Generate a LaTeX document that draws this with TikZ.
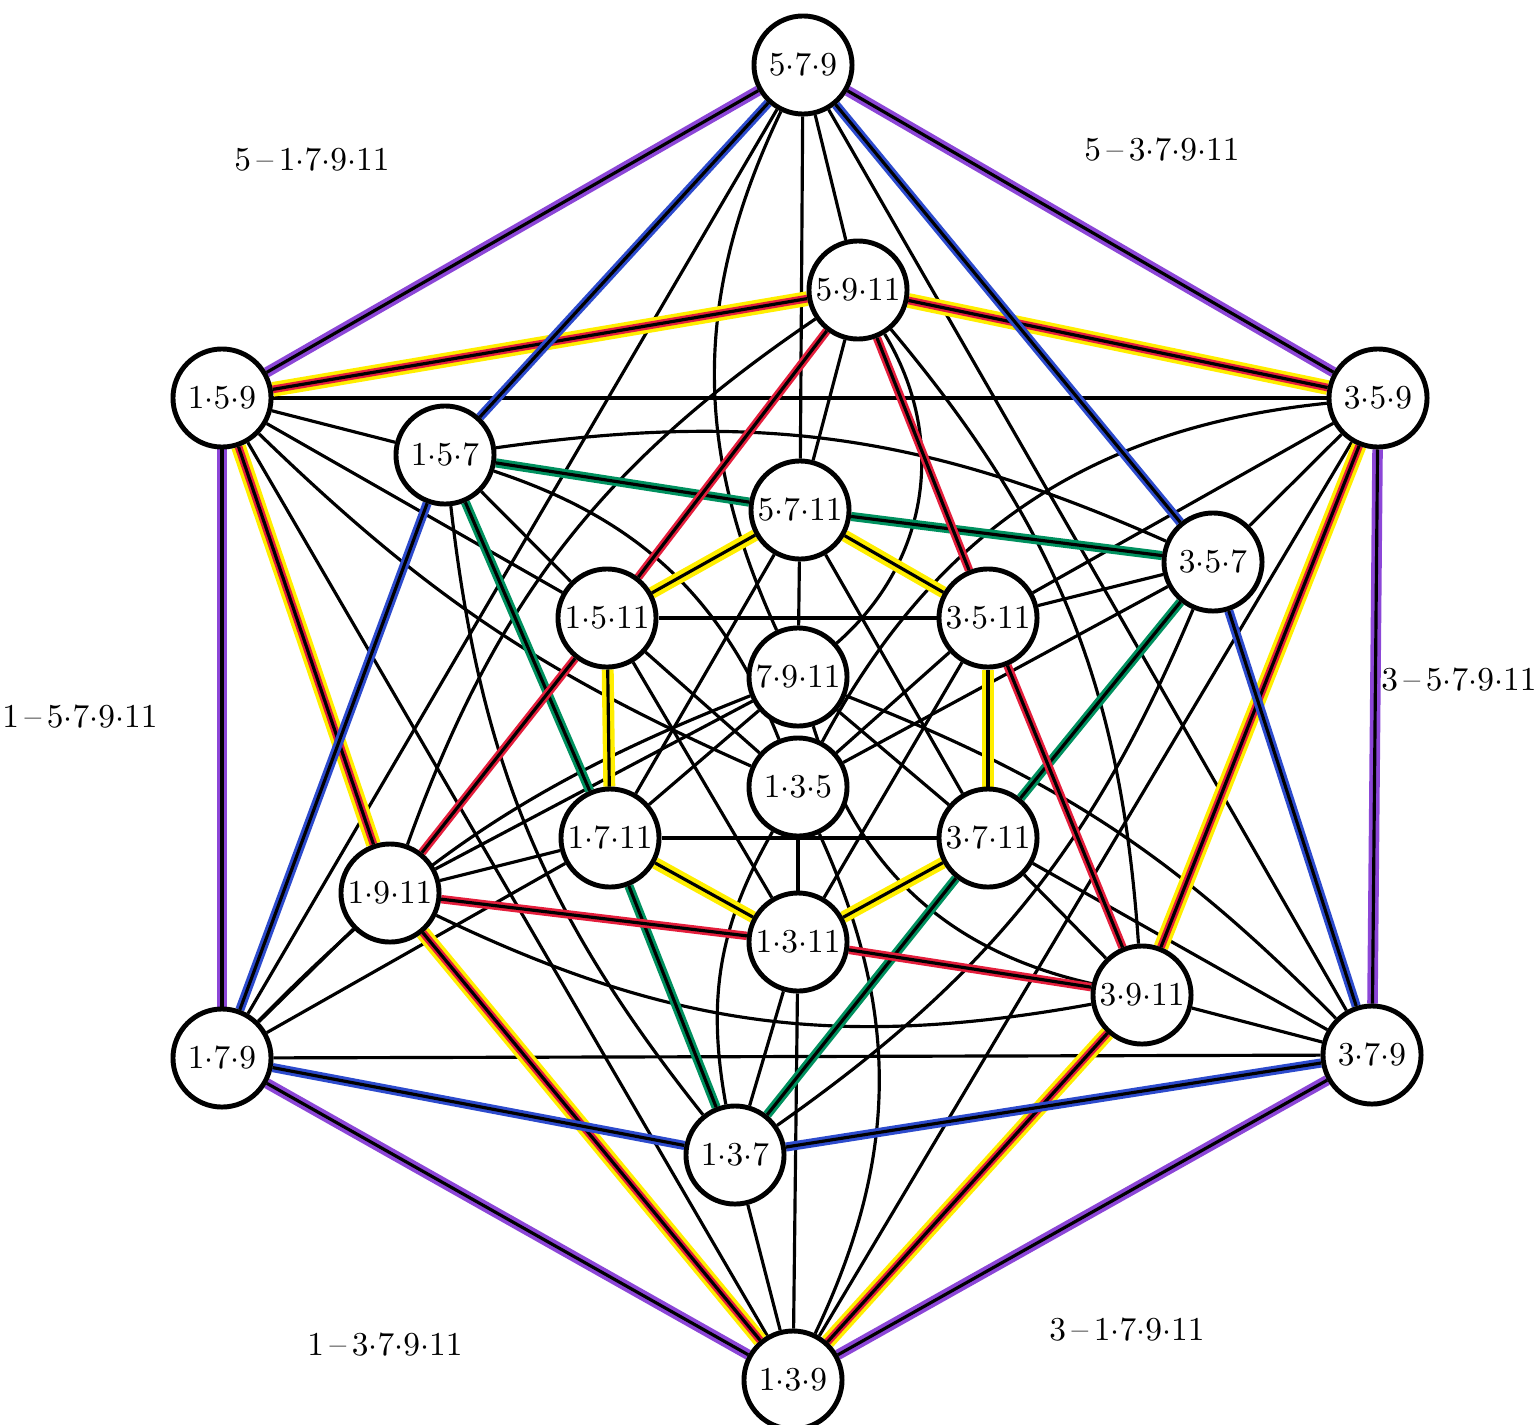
\documentclass[tikz,border=0pt]{standalone}
\usepackage{tikz}
\usetikzlibrary{backgrounds}

\definecolor{hexpurple}{RGB}{140,70,215}
\definecolor{hexblue}{RGB}{45,75,205}
\definecolor{hexgreen}{RGB}{0,145,95}
\definecolor{hexred}{RGB}{228,30,60}
\definecolor{hexyellow}{RGB}{255,238,0}

\newcommand{\dt}{$\cdot$}

\begin{document}
\begin{tikzpicture}[
  x=0.01cm, y=-0.01cm,
  triad/.style={draw, circle, fill=white, line width=1.4pt, minimum size=9.8mm, inner sep=0pt, font=\fontsize{9.5}{11}\selectfont},
  blk/.style={line width=0.9pt},
  purp/.style={blk, preaction={draw=hexpurple, line width=3pt}},
  blu/.style={blk, preaction={draw=hexblue, line width=2.6pt}},
  grn/.style={blk, preaction={draw=hexgreen, line width=2.6pt}},
  rd/.style={blk, preaction={draw=hexred, line width=2.4pt}},
  yel/.style={blk, preaction={draw=hexyellow, line width=3.4pt}},
  yelrd/.style={blk, preaction={draw=hexyellow, line width=4.2pt}, preaction={draw=hexred, line width=2.2pt}},
  lbl/.style={font=\fontsize{9.5}{11}\selectfont}
]
\useasboundingbox (0,0) rectangle (1534,1424);

% outer ring
\node[triad] (n579)  at (803,65)    {5\dt7\dt9};
\node[triad] (n359)  at (1378,398)  {3\dt5\dt9};
\node[triad] (n379)  at (1372,1055) {3\dt7\dt9};
\node[triad] (n139)  at (793,1380)  {1\dt3\dt9};
\node[triad] (n179)  at (222,1058)  {1\dt7\dt9};
\node[triad] (n159)  at (222,398)   {1\dt5\dt9};
% middle ring
\node[triad] (n5911) at (858,290)   {5\dt9\dt11};
\node[triad] (n157)  at (445,455)   {1\dt5\dt7};
\node[triad] (n357)  at (1213,562)  {3\dt5\dt7};
\node[triad] (n1911) at (390,893)   {1\dt9\dt11};
\node[triad] (n3911) at (1142,995)  {3\dt9\dt11};
\node[triad] (n137)  at (735,1155)  {1\dt3\dt7};
% inner ring
\node[triad] (n5711) at (800,510)   {5\dt7\dt11};
\node[triad] (n1511) at (607,618)   {1\dt5\dt11};
\node[triad] (n3511) at (988,618)   {3\dt5\dt11};
\node[triad] (n1711) at (610,838)   {1\dt7\dt11};
\node[triad] (n3711) at (988,838)   {3\dt7\dt11};
\node[triad] (n1311) at (798,942)   {1\dt3\dt11};
% centre
\node[triad] (n7911) at (798,677)   {7\dt9\dt11};
\node[triad] (n135)  at (798,787)   {1\dt3\dt5};

% side labels
\node[lbl] (l1) at (312,160)   {5\,--\,1\dt7\dt9\dt11};
\node[lbl] (l2) at (1162,150)  {5\,--\,3\dt7\dt9\dt11};
\node[lbl] (l3) at (80,717)    {1\,--\,5\dt7\dt9\dt11};
\node[lbl] (l4) at (1459,680)  {3\,--\,5\dt7\dt9\dt11};
\node[lbl] (l5) at (385,1345)  {1\,--\,3\dt7\dt9\dt11};
\node[lbl] (l6) at (1127,1330) {3\,--\,1\dt7\dt9\dt11};

\begin{scope}[on background layer]
% plain black edges
\foreach \a/\b in {n135/n1311, n137/n139, n137/n1311, n139/n1311,
    n135/n1511, n157/n159, n157/n1511, n159/n1511,
    n179/n1711, n139/n159, n179/n1911, n1311/n1511, n1711/n1911,
    n135/n357, n135/n3511, n357/n359, n357/n3511, n359/n3511,
    n379/n3711, n139/n359, n379/n3911, n1311/n3511, n3711/n3911,
    n579/n5711, n159/n359, n579/n5911, n1511/n3511, n5711/n5911,
    n179/n379, n179/n579, n379/n579,
    n1711/n3711, n1711/n5711, n1711/n7911, n3711/n5711, n3711/n7911, n5711/n7911,
    n1911/n7911}
  \draw[blk] (\a) -- (\b);

% black edges bent round other nodes
\draw[blk] (n135) to[bend right=20] (n137);
\draw[blk] (n135) to[bend left=25] (n139);
\draw[blk] (n135) to[bend right=25] (n157);
\draw[blk] (n135) to[bend left=10] (n159);
\draw[blk] (n135) to[bend left=28] (n359);
\draw[blk] (n137) to[bend left=16] (n157);
\draw[blk] (n137) to[bend right=16] (n357);
\draw[blk] (n157) to[bend left=16] (n357);
\draw[blk] (n179) to[bend left=12] (n7911);
\draw[blk] (n379) to[bend right=12] (n7911);
\draw[blk] (n579) to[bend right=25] (n7911);
\draw[blk] (n5911) to[bend left=40] (n7911);
\draw[blk] (n1911) to[bend right=18] (n3911);
\draw[blk] (n1911) to[bend left=18] (n5911);
\draw[blk] (n3911) to[bend right=18] (n5911);
\draw[blk] (n3911) to[bend left=30] (n7911);

% coloured hexagons
\foreach \a/\b in {n579/n159, n159/n179, n179/n139, n139/n379, n379/n359, n359/n579}
  \draw[purp] (\a) -- (\b);
\foreach \a/\b in {n159/n5911, n5911/n359, n359/n3911, n3911/n139, n139/n1911, n1911/n159}
  \draw[yelrd] (\a) -- (\b);
\foreach \a/\b in {n579/n157, n157/n179, n179/n137, n137/n379, n379/n357, n357/n579}
  \draw[blu] (\a) -- (\b);
\foreach \a/\b in {n157/n5711, n5711/n357, n357/n3711, n3711/n137, n137/n1711, n1711/n157}
  \draw[grn] (\a) -- (\b);
\foreach \a/\b in {n5911/n1511, n1511/n1911, n1911/n1311, n1311/n3911, n3911/n3511, n3511/n5911}
  \draw[rd] (\a) -- (\b);
\foreach \a/\b in {n5711/n3511, n3511/n3711, n3711/n1311, n1311/n1711, n1711/n1511, n1511/n5711}
  \draw[yel] (\a) -- (\b);
\end{scope}
\end{tikzpicture}
\end{document}
